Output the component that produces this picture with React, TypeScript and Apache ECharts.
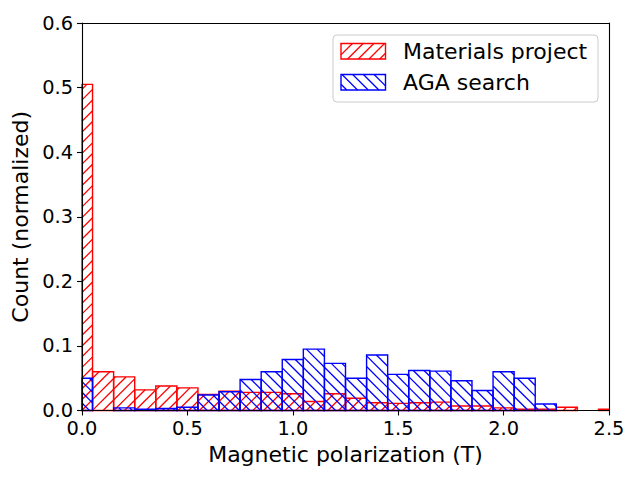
import React, { useEffect, useRef } from "react";
import * as echarts from "echarts";

// Bin centres (width 0.1) of the histograms
const binCenters = [
  0.0, 0.1, 0.2, 0.3, 0.4, 0.5, 0.6, 0.7, 0.8, 0.9, 1.0, 1.1, 1.2,
  1.3, 1.4, 1.5, 1.6, 1.7, 1.8, 1.9, 2.0, 2.1, 2.2, 2.3, 2.4, 2.5,
];
const binWidth = 0.1;

const materialsProject = [
  0.505, 0.06, 0.052, 0.032, 0.038, 0.035, 0.025, 0.03, 0.028, 0.028, 0.026,
  0.014, 0.026, 0.019, 0.012, 0.011, 0.012, 0.013, 0.007, 0.007, 0.004, 0.002,
  0.002, 0.005, 0.0, 0.002,
];
const agaSearch = [
  0.05, 0.0, 0.004, 0.002, 0.003, 0.005, 0.024, 0.029, 0.048, 0.06, 0.079,
  0.095, 0.073, 0.05, 0.086, 0.056, 0.062, 0.061, 0.046, 0.031, 0.06, 0.05,
  0.01, 0.0, 0.0, 0.0,
];

const xTicks = [0, 0.5, 1.0, 1.5, 2.0, 2.5];
const yTicks = [0, 0.1, 0.2, 0.3, 0.4, 0.5, 0.6];

const seriesNames = ["Materials project", "AGA search"];
const seriesColors = ["#ff0000", "#0000ff"];

const FONT = "DejaVu Sans";
const HATCH = 10.7;

function hatchLines(
  x0: number, y0: number, x1: number, y1: number,
  dir: "/" | "\\", color: string
) {
  const out: any[] = [];
  const style = { stroke: color, lineWidth: 1.3 };
  if (dir === "/") {
    const start = Math.ceil((x0 + y0) / HATCH) * HATCH;
    for (let c = start; c <= x1 + y1; c += HATCH) {
      const xa = Math.max(x0, c - y1);
      const xb = Math.min(x1, c - y0);
      if (xb > xa + 0.3) {
        out.push({
          type: "line",
          shape: { x1: xa, y1: c - xa, x2: xb, y2: c - xb },
          style,
          silent: true,
        });
      }
    }
  } else {
    const start = Math.ceil((x0 - y1) / HATCH) * HATCH;
    for (let c = start; c <= x1 - y0; c += HATCH) {
      const xa = Math.max(x0, c + y0);
      const xb = Math.min(x1, c + y1);
      if (xb > xa + 0.3) {
        out.push({
          type: "line",
          shape: { x1: xa, y1: xa - c, x2: xb, y2: xb - c },
          style,
          silent: true,
        });
      }
    }
  }
  return out;
}

function makeRenderItem(color: string, dir: "/" | "\\") {
  return (params: any, api: any) => {
    const c = api.value(0);
    const v = api.value(1);
    if (!(v > 0)) return null;
    const pTop = api.coord([c - binWidth / 2, v]);
    const pBot = api.coord([c + binWidth / 2, 0]);
    const cs = params.coordSys;
    const x0 = Math.max(pTop[0], cs.x);
    const x1 = Math.min(pBot[0], cs.x + cs.width);
    const y0 = pTop[1];
    const y1 = pBot[1];
    if (x1 <= x0) return null;
    return {
      type: "group",
      children: [
        ...hatchLines(x0, y0, x1, y1, dir, color),
        {
          type: "rect",
          shape: { x: x0, y: y0, width: x1 - x0, height: y1 - y0 },
          style: { fill: "none", stroke: color, lineWidth: 1.4 },
        },
      ],
    };
  };
}

function legendGraphic() {
  const fx = 333, fy = 35, fw = 265, fh = 67;
  const items: any[] = [
    {
      type: "rect",
      shape: { x: fx, y: fy, width: fw, height: fh, r: 4 },
      style: { fill: "rgba(255,255,255,0.8)", stroke: "#cccccc", lineWidth: 1 },
      z: 100,
    },
  ];
  const rows = [
    { y: 43.5, dir: "/" as const },
    { y: 74.5, dir: "\\" as const },
  ];
  rows.forEach((r, i) => {
    const px0 = 341, px1 = 385.5, py0 = r.y, py1 = r.y + 15.5;
    hatchLines(px0, py0, px1, py1, r.dir, seriesColors[i]).forEach((l) =>
      items.push({ ...l, z: 101 })
    );
    items.push({
      type: "rect",
      shape: { x: px0, y: py0, width: px1 - px0, height: py1 - py0 },
      style: { fill: "none", stroke: seriesColors[i], lineWidth: 1.4 },
      z: 101,
    });
    items.push({
      type: "text",
      x: 403,
      y: (py0 + py1) / 2,
      style: {
        text: seriesNames[i],
        font: `22px "${FONT}"`,
        fill: "#000",
        textVerticalAlign: "middle",
        verticalAlign: "middle",
      },
      z: 101,
    });
  });
  return items;
}

export default function App() {
  const ref = useRef<HTMLDivElement>(null);
  useEffect(() => {
    if (!ref.current) return;
    const chart = echarts.init(ref.current, undefined, { renderer: "svg" });
    const axisLine = { show: true, lineStyle: { color: "#000", width: 1.1 } };
    const fmt = (v: number) => v.toFixed(1);
    chart.setOption({
      animation: false,
      backgroundColor: "#fff",
      textStyle: { fontFamily: FONT },
      grid: { left: 82, right: 31, top: 23, bottom: 69.5, containLabel: false },
      xAxis: [
        {
          type: "value",
          min: xTicks[0],
          max: xTicks[xTicks.length - 1],
          interval: 0.5,
          z: 10,
          axisLine: { ...axisLine, onZero: false },
          axisTick: { show: true, length: 5, lineStyle: { color: "#000", width: 1.1 } },
          axisLabel: { color: "#000", fontSize: 19.4, fontFamily: FONT, margin: 8, formatter: fmt },
          splitLine: { show: false },
          name: "Magnetic polarization (T)",
          nameLocation: "middle",
          nameGap: 33,
          nameTextStyle: { color: "#000", fontSize: 22, fontFamily: FONT },
        },
        {
          type: "value",
          position: "top",
          min: 0,
          max: 2.5,
          z: 10,
          axisLine: { ...axisLine, onZero: false },
          axisTick: { show: false },
          axisLabel: { show: false },
          splitLine: { show: false },
        },
      ],
      yAxis: [
        {
          type: "value",
          min: yTicks[0],
          max: yTicks[yTicks.length - 1],
          interval: 0.1,
          z: 10,
          axisLine: { ...axisLine, onZero: false },
          axisTick: { show: true, length: 5, lineStyle: { color: "#000", width: 1.1 } },
          axisLabel: { color: "#000", fontSize: 19.4, fontFamily: FONT, margin: 9, formatter: fmt },
          splitLine: { show: false },
          name: "Count (normalized)",
          nameLocation: "middle",
          nameGap: 48,
          nameTextStyle: { color: "#000", fontSize: 22, fontFamily: FONT },
        },
        {
          type: "value",
          position: "right",
          min: 0,
          max: 0.6,
          z: 10,
          axisLine: { ...axisLine, onZero: false },
          axisTick: { show: false },
          axisLabel: { show: false },
          splitLine: { show: false },
        },
      ],
      series: [
        {
          name: seriesNames[0],
          type: "custom",
          xAxisIndex: 0,
          yAxisIndex: 0,
          renderItem: makeRenderItem(seriesColors[0], "/"),
          data: binCenters.map((c, i) => [c, materialsProject[i]]),
          z: 2,
        },
        {
          name: seriesNames[1],
          type: "custom",
          xAxisIndex: 0,
          yAxisIndex: 0,
          renderItem: makeRenderItem(seriesColors[1], "\\"),
          data: binCenters.map((c, i) => [c, agaSearch[i]]),
          z: 3,
        },
      ],
      graphic: legendGraphic(),
    });
    return () => chart.dispose();
  }, []);
  return (
    <div
      ref={ref}
      style={{ position: "fixed", left: 0, top: 0, width: 640, height: 480 }}
    />
  );
}
